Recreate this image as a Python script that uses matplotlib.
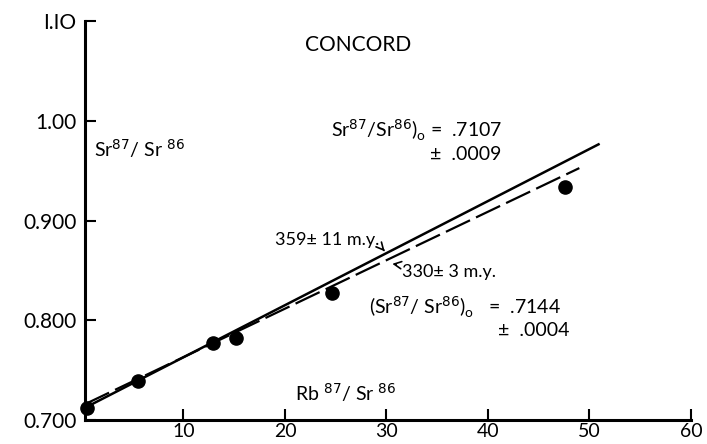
import numpy as np
import matplotlib.pyplot as plt

# Rb87/Sr86 vs Sr87/Sr86, Concord
rb_sr = [0.5, 5.5, 12.9, 15.2, 24.6, 47.6]
sr_sr = [0.712, 0.739, 0.777, 0.782, 0.827, 0.934]

# isochrons: intercept, slope, x end
solid_int, solid_slope, solid_end = 0.7107, 0.00522, 51.0
dash_int, dash_slope, dash_end = 0.7144, 0.00486, 49.0

x_ticks = [10, 20, 30, 40, 50, 60]
y_ticks = [0.700, 0.800, 0.900, 1.00, 1.10]
y_labels = ['0.700', '0.800', '0.900', '1.00', 'I.IO']

plt.rcParams['font.family'] = ['Lato', 'DejaVu Sans']

fig = plt.figure(figsize=(7.07, 4.44), dpi=100)
ax = fig.add_axes([85 / 707, 24 / 444, (691 - 85) / 707, (420 - 21) / 444])

xs = np.array([0.3, solid_end])
ax.plot(xs, solid_int + solid_slope * xs, color='black', lw=1.8, solid_capstyle='butt')
xd = np.array([0.3, dash_end])
ax.plot(xd, dash_int + dash_slope * xd, color='black', lw=1.6, dashes=(12, 3))
ax.scatter(rb_sr, sr_sr, s=90, color='black', zorder=3, clip_on=False)

ax.set_xlim(0.3, 60)
ax.set_ylim(0.700, 1.10)
ax.set_xticks(x_ticks)
ax.set_yticks(y_ticks)
ax.set_yticklabels(y_labels)
ax.tick_params(direction='in', length=8, width=1.5, labelsize=15, pad=6)
ax.tick_params(axis='x', labelsize=14, pad=2)
for s in ['top', 'right']:
    ax.spines[s].set_visible(False)
for s in ['left', 'bottom']:
    ax.spines[s].set_linewidth(2.2)

ax.text(27.2, 1.076, 'CONCORD', fontsize=15, ha='center', va='center')
ax.text(1.2, 0.972, 'Sr$^{87}$/ Sr $^{86}$', fontsize=14, va='center')
ax.text(24.5, 0.990, 'Sr$^{87}$/Sr$^{86}$)$_\\mathregular{o}$ =  .7107', fontsize=14, va='center')
ax.text(34.3, 0.966, '±  .0009', fontsize=14, va='center')
ax.text(28.3, 0.813, '(Sr$^{87}$/ Sr$^{86}$)$_\\mathregular{o}$   =  .7144', fontsize=14, va='center')
ax.text(41.0, 0.790, '±  .0004', fontsize=14, va='center')
ax.text(21.0, 0.728, 'Rb $^{87}$/ Sr $^{86}$', fontsize=14, va='center')

ax.annotate('359± 11 m.y.', xy=(30.0, 0.867), xytext=(19.0, 0.880),
            fontsize=13, va='center',
            arrowprops=dict(arrowstyle='->', color='black', lw=1.2,
                            connectionstyle='arc3,rad=-0.4'))
ax.annotate('330± 3 m.y.', xy=(30.3, 0.857), xytext=(31.5, 0.848),
            fontsize=13, va='center',
            arrowprops=dict(arrowstyle='->', color='black', lw=1.2))

fig.savefig('out.png', dpi=100)
